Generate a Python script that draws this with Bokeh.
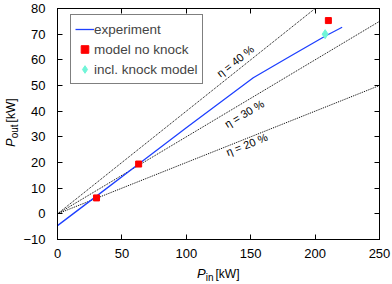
import math
from bokeh.plotting import figure
from bokeh.models import ColumnDataSource, Range1d, LinearAxis, FixedTicker, Legend, LegendItem, Div
from bokeh.layouts import row, column
from bokeh.core.properties import value
from bokeh.embed import file_html
from bokeh.resources import INLINE

# ---- data ----
exp_pin = [0, 30, 63, 100, 152, 180, 208, 221]
exp_pout = [-4.6, 6.8, 19.4, 33.5, 53.0, 61.2, 69.3, 72.7]
model_pin = [30.3, 63.0, 210.3]
model_pout = [6.2, 19.4, 75.3]
knock_pin = [207.8]
knock_pout = [70.0]
eta_values = [0.2, 0.3, 0.4]
eta_labels = ["η = 20 %", "η = 30 %", "η = 40 %"]
eta_label_x = [147, 145, 138]
eta_label_y = [27, 39, 59.5]
x_ticks = [0, 50, 100, 150, 200, 250]
y_ticks = [-10, 0, 10, 20, 30, 40, 50, 60, 70, 80]
x_lim = (0, 250)
y_lim = (-10, 80)

FONT = "Liberation Sans"
CSS_FONT = "'Liberation Sans', Arial, sans-serif"
YDIV_W = 20
W, H = 372, 263
BL, BR, BT, BB = 35, 13, 8, 24

p = figure(width=W, height=H, output_backend="svg", toolbar_location=None,
           x_range=Range1d(*x_lim), y_range=Range1d(*y_lim),
           min_border_left=BL, min_border_right=BR, min_border_top=BT, min_border_bottom=BB)
p.xgrid.visible = False
p.ygrid.visible = False
p.outline_line_color = "black"
p.outline_line_width = 1
p.outline_line_alpha = 1
p.background_fill_color = "white"
p.border_fill_color = "white"

def style_axis(ax, ticks, show_labels):
    ax.ticker = FixedTicker(ticks=ticks)
    ax.major_tick_in = 5
    ax.major_tick_out = 0
    ax.minor_tick_line_color = None
    ax.axis_line_color = "black"
    ax.major_tick_line_color = "black"
    ax.major_label_text_font = FONT
    ax.major_label_text_font_size = "13px"
    ax.major_label_text_color = "black"
    if not show_labels:
        ax.major_label_overrides = {t: "" for t in ticks}
        ax.major_label_standoff = 0

style_axis(p.xaxis[0], x_ticks, True)
style_axis(p.yaxis[0], y_ticks, True)
p.xaxis[0].major_label_standoff = 9
p.yaxis[0].major_label_standoff = 12

top_ax = LinearAxis()
style_axis(top_ax, x_ticks, False)
p.add_layout(top_ax, "above")
right_ax = LinearAxis()
style_axis(right_ax, y_ticks, False)
p.add_layout(right_ax, "right")

# efficiency lines
xpx = (W - BL - BR) / (x_lim[1] - x_lim[0])
ypx = (H - BT - BB) / (y_lim[1] - y_lim[0])
for eff in eta_values:
    xs = [x_lim[0], x_lim[1]]
    p.line(xs, [eff * v for v in xs], line_color="black", line_dash="1 1", line_width=1)
eta_src = ColumnDataSource(dict(
    x=eta_label_x, y=eta_label_y, text=eta_labels,
    angle=[math.atan(e * ypx / xpx) for e in eta_values]))
p.text(x="x", y="y", text="text", angle="angle", source=eta_src,
       text_align="center", text_baseline="middle",
       text_font=value(FONT), text_font_size="11px", text_color="black")

r_exp = p.line(exp_pin, exp_pout, line_color="#1e40ff", line_width=1.3)
r_model = p.scatter(model_pin, model_pout, marker="square", size=6,
                    fill_color="#ff0000", line_color="#ff0000")
r_knock = p.scatter(knock_pin, knock_pout, marker="diamond", size=9,
                    fill_color="#70f5d8", line_color="#70f5d8")

frame_h = H - BT - BB
legend = Legend(items=[
    LegendItem(label="experiment", renderers=[r_exp]),
    LegendItem(label="model no knock", renderers=[r_model]),
    LegendItem(label="incl. knock model", renderers=[r_knock]),
], location=(13, frame_h - 8 - 68), margin=0, padding=4, spacing=0,
    label_height=20, glyph_height=20, glyph_width=19, label_standoff=0, label_width=98,
    label_text_font=FONT, label_text_font_size="13.5px",
    border_line_color="black", border_line_width=1.3, background_fill_alpha=1)
p.add_layout(legend, "center")

# axis labels as HTML (italic P with subscript)
ylab_html = (
    f'<div style="position:relative;width:{YDIV_W}px;height:{H}px;">'
    f'<div style="position:absolute;left:3px;top:147px;transform-origin:0 0;'
    f'transform:rotate(-90deg);white-space:nowrap;font-family:{CSS_FONT};'
    f'font-size:13px;line-height:15px;color:#000;">'
    '<i>P</i><span style="font-size:10px;position:relative;top:3px;">out</span>'
    '<span style="margin-left:2px;font-size:12px;">[kW]</span></div></div>'
)
xlab_html = (
    f'<div style="position:relative;width:{YDIV_W + W}px;height:21px;">'
    f'<div style="position:absolute;left:197px;top:3px;white-space:nowrap;'
    f'font-family:{CSS_FONT};font-size:13px;line-height:16px;color:#000;">'
    '<i>P</i><span style="font-size:10px;position:relative;top:3px;">in</span>'
    '<span style="margin-left:2px;font-size:12px;">[kW]</span></div></div>'
)
ydiv = Div(text=ylab_html, width=YDIV_W, height=H, margin=0)
xdiv = Div(text=xlab_html, width=YDIV_W + W, height=21, margin=0)

layout = column(row(ydiv, p, spacing=0), xdiv, spacing=0)
open("out.html", "w").write(file_html(layout, INLINE))
